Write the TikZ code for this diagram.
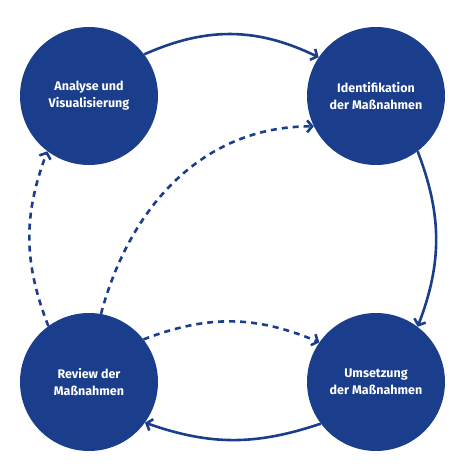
\documentclass[tikz,border=0pt]{standalone}
\usepackage{fontspec}
\setmainfont{Fira Sans}
\usetikzlibrary{arrows.meta}
\definecolor{navy}{RGB}{26,62,140}
\tikzset{
  phase/.style={circle, fill=navy, text=white, minimum size=138pt, inner sep=0pt,
    align=center, font=\bfseries\fontsize{12.5}{17}\selectfont},
  flow/.style={draw=navy, line width=2.6pt, -{Straight Barb[length=5pt,width=12pt]}},
  back/.style={flow, dash pattern=on 6pt off 5pt}
}
\begin{document}
\begin{tikzpicture}[x=1pt,y=-1pt]
\useasboundingbox (0,0) rectangle (457,466);
\node[phase] (ana) at (89,96) {Analyse und\\Visualisierung};
\node[phase] (ide) at (376,96) {Identifikation\\der Maßnahmen};
\node[phase] (ums) at (376,382) {Umsetzung\\der Maßnahmen};
\node[phase] (rev) at (89,382) {Review der\\Maßnahmen};
% main cycle
\draw[flow] (ana.37) to[bend left=25] (ide.146);
\draw[flow] (ide.307) to[bend left=21] (ums.53);
\draw[flow] (ums.217) to[bend left=19] (rev.324);
% feedback
\draw[back] (rev.126) to[bend left=21] (ana.233);
\draw[back] (rev.80) to[out=75, in=180] (ide.206);
\draw[back] (rev.38) to[bend left=22] (ums.145);
\end{tikzpicture}
\end{document}
